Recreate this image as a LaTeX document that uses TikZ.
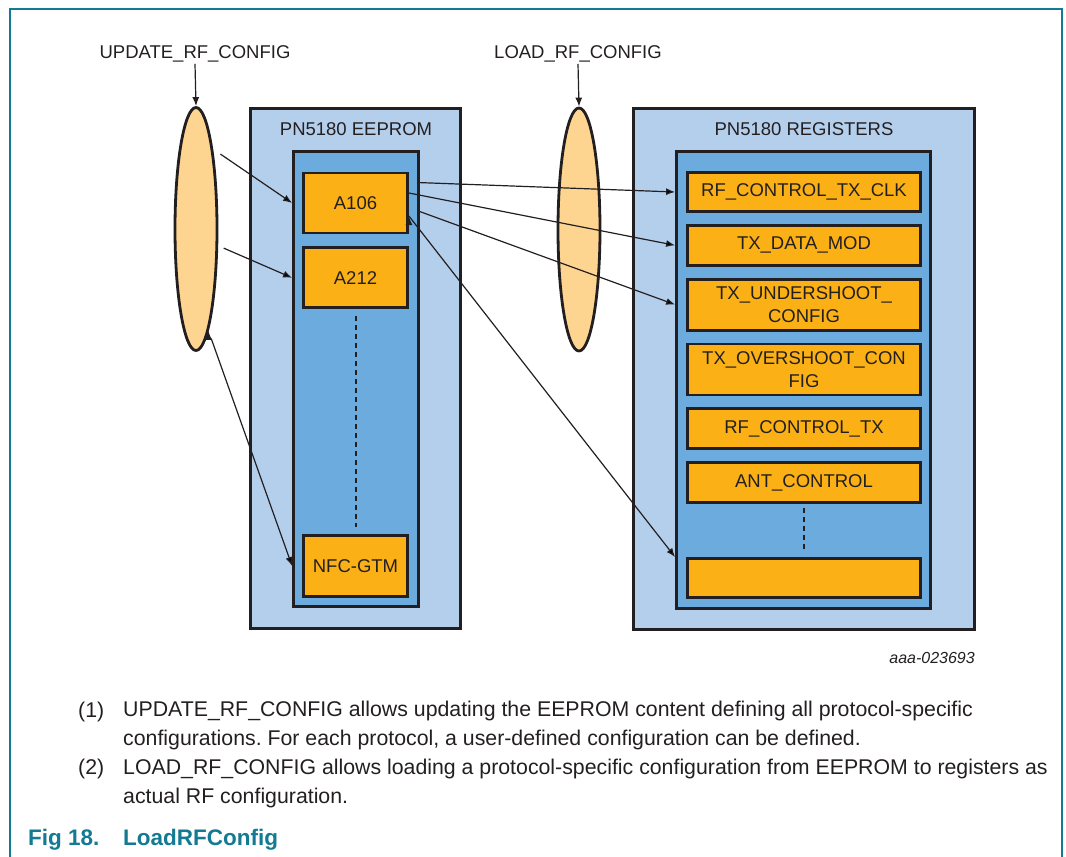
\documentclass[tikz,border=0pt]{standalone}
\usepackage{xcolor}
\usepackage{fontspec}
\setmainfont{Liberation Sans}
\usepackage{tikz}
\usetikzlibrary{arrows.meta,shapes.geometric,positioning,calc}
\frenchspacing

\definecolor{boxlight}{HTML}{B4CFEC}
\definecolor{boxmid}{HTML}{6CABDD}
\definecolor{regfill}{HTML}{FBB116}
\definecolor{cmdfill}{HTML}{FDD590}
\definecolor{inkdark}{HTML}{231F20}
\definecolor{nxpteal}{HTML}{127A92}

\begin{document}
\begin{tikzpicture}[x=1pt,y=-1pt,node distance=11pt,>={Latex[length=9pt,width=7pt]}]
\tikzstyle{every node}=[font=\fontsize{18.5}{23}\selectfont,text=inkdark]
\tikzstyle{outer box}=[draw=inkdark,line width=2.8pt,fill=boxlight,inner sep=0pt]
\tikzstyle{inner box}=[draw=inkdark,line width=2.8pt,fill=boxmid,inner sep=0pt]
\tikzstyle{regbox}=[draw=inkdark,line width=2.8pt,fill=regfill,inner sep=0pt,minimum width=233pt,align=center]
\tikzstyle{cell}=[regbox,minimum width=104pt]
\tikzstyle{cmdell}=[ellipse,draw=inkdark,line width=2.8pt,fill=cmdfill,inner sep=0pt,minimum width=42pt,minimum height=243pt]
\tikzstyle{link}=[->,draw=inkdark,line width=1.2pt]
\tikzstyle{capline}=[anchor=base west,inner sep=0pt,align=left,font=\fontsize{21.3}{28.7}\selectfont]
\useasboundingbox (0,0) rectangle (1066,857);
%marco
\draw[nxpteal,line width=1.6pt] (10,857) -- (10,9) -- (1062,9) -- (1062,857);
%eeprom
\node[outer box,minimum width=210pt,minimum height=520pt] (eeout) at (355.5,368.5) {};
\node[anchor=base] (eetitle) at (356,135) {PN5180 EEPROM};
\node[inner box,minimum width=125pt,minimum height=455pt] (eein) at (356,379) {};
\node[cell,minimum height=60pt] (a106) at (355.5,203) {A106};
\node[cell,minimum height=60pt] (a212) [below=12pt of a106] {A212};
\node[cell,minimum height=61pt] (nfc) at (355.5,566) {NFC-GTM};
\draw[inkdark,line width=2pt,dash pattern=on 5pt off 4pt,shorten <=7pt,shorten >=7pt] (a212) -- (nfc);
%registros
\node[outer box,minimum width=341pt,minimum height=521pt] (regout) at (804,369) {};
\node[anchor=base] (regtitle) at (804,135) {PN5180 REGISTERS};
\node[inner box,minimum width=254pt,minimum height=457pt] (regin) at (803.5,380) {};
\node[regbox,minimum height=39pt] (rfclk) at (804,192) {RF\_CONTROL\_TX\_CLK};
\node[regbox,minimum height=40pt] (datamod) [below=of rfclk] {TX\_DATA\_MOD};
\node[regbox,minimum height=51pt] (under) [below=of datamod] {TX\_UNDERSHOOT\_\\CONFIG};
\node[regbox,minimum height=51pt] (over) [below=of under] {TX\_OVERSHOOT\_CON\\FIG};
\node[regbox,minimum height=40pt] (rftx) [below=of over] {RF\_CONTROL\_TX};
\node[regbox,minimum height=40pt] (ant) [below=of rftx] {ANT\_CONTROL};
\node[regbox,minimum height=39pt] (blank) at (804,578) {};
\draw[inkdark,line width=2pt,dash pattern=on 5pt off 4pt,shorten <=4pt,shorten >=7pt] (ant) -- (blank);
%comandos
\node[cmdell] (upd) at (196,229) {};
\node[cmdell] (load) at (579,229.5) {};
\node[anchor=base,inner sep=2pt] (updlbl) at (195,58) {UPDATE\_RF\_CONFIG};
\node[anchor=base,inner sep=2pt] (loadlbl) at (578,58) {LOAD\_RF\_CONFIG};
\draw[link] (updlbl.south) -- (upd.north);
\draw[link] (loadlbl.south) -- (load.north);
%conexiones
\path[link] (upd.78) edge[shorten <=9pt] (eein.west |- a106)
            (upd.-37) edge[shorten <=6pt] (eein.west |- a212)
            (upd.-83) edge[shorten <=8pt] (eein.west |- nfc);
\path[link] ($(eein.east |- a106.north)+(0,11)$) edge (regin.west |- rfclk)
            ($(a106.east)+(0,-10)$) edge (regin.west |- datamod)
            ($(eein.east |- a106.north)+(0,40)$) edge (regin.west |- under)
            ($(a106.east)+(0,13)$) edge (regin.west |- blank.north);
\node[anchor=base east,inner sep=0pt,font=\fontsize{16}{19}\selectfont\itshape] (fignr) at (975,663) {aaa-023693};
%notas
\node[capline] (n1) at (78,717) {(1)};
\node[capline] (t1) at (123,745) {UPDATE\_RF\_CONFIG allows updating the EEPROM content defining all protocol-specific\\configurations. For each protocol, a user-defined configuration can be defined.};
\node[capline] (n2) at (78,774) {(2)};
\node[capline] (t2) at (123,803) {LOAD\_RF\_CONFIG allows loading a protocol-specific configuration from EEPROM to registers as\\actual RF configuration.};
\node[capline,font=\fontsize{22.5}{27}\selectfont\bfseries,text=nxpteal] (fig) at (28,845) {Fig 18.};
\node[capline,font=\fontsize{22.5}{27}\selectfont\bfseries,text=nxpteal] (figname) at (123,845) {LoadRFConfig};
\end{tikzpicture}
\end{document}
